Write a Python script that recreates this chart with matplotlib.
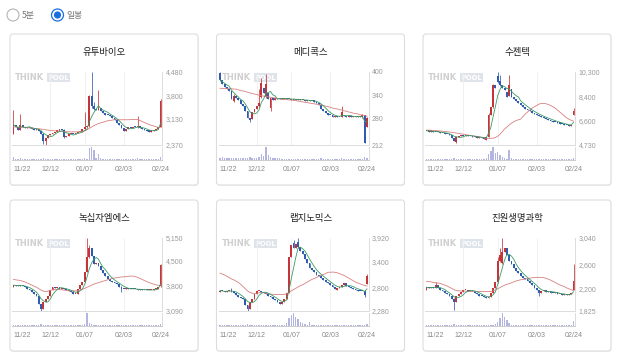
import matplotlib.pyplot as plt
from matplotlib.patches import FancyBboxPatch, Circle
import numpy as np
import pandas as pd

plt.rcParams['font.family'] = ['Noto Sans CJK KR', 'DejaVu Sans']

names = ["유투바이오", "메디콕스", "수젠텍", "녹십자엠에스", "랩지노믹스", "진원생명과학"]
price_ticks = [
    [2370, 3130, 3800, 4480],
    [212, 280, 340, 400],
    [4730, 6600, 8400, 10300],
    [3090, 3800, 4500, 5150],
    [2280, 2800, 3400, 3920],
    [1825, 2200, 2600, 3040],
]
date_pos = [0, 16, 31, 48, 64]
date_labels = ["11/22", "12/12", "01/07", "02/03", "02/24"]

open_1 = [2700, 2950, 2880, 2800, 2950, 2900, 2870, 2900, 2850, 2830,
          2800, 2820, 2780, 2700, 2480, 2560, 2650, 2700, 2730, 2760,
          2780, 2820, 2800, 2600, 2620, 2680, 2700, 2690, 2720, 2740,
          2760, 2820, 2900, 2920, 3800, 3500, 3420, 3380, 3450, 3350,
          3300, 3250, 3230, 3200, 3150, 3080, 3000, 2950, 2850, 2780,
          2820, 2880, 2860, 2900, 2880, 2920, 2850, 2830, 2800, 2770,
          2760, 2780, 2800, 2830, 2900]
close_1 = [2950, 2880, 2800, 2950, 2900, 2870, 2900, 2850, 2830, 2800,
           2820, 2780, 2700, 2480, 2560, 2650, 2700, 2730, 2760, 2780,
           2820, 2800, 2600, 2620, 2680, 2700, 2690, 2720, 2740, 2760,
           2820, 2900, 2920, 3800, 3500, 3420, 3380, 3450, 3350, 3300,
           3250, 3230, 3200, 3150, 3080, 3000, 2950, 2850, 2780, 2820,
           2880, 2860, 2900, 2880, 2920, 2850, 2830, 2800, 2770, 2760,
           2780, 2800, 2830, 2900, 3650]
wick_1 = {0: (3380, 2680), 3: (3280, 2790), 13: (2720, 2400), 14: (2580, 2380),
          22: (2820, 2580), 31: (3330, 2810), 33: (3820, 2900), 34: (4480, 3450),
          35: (3600, 3380), 37: (3950, 3370), 54: (3200, 2870), 64: (3700, 2890)}
vol_1 = [3, 1, 1, 2, 1, 1, 1, 1, 1, 1,
         1, 1, 1, 2, 1, 1, 1, 1, 1, 1,
         1, 1, 1, 1, 1, 1, 1, 1, 1, 1,
         1, 2, 1, 12, 13, 10, 2, 6, 2, 1,
         1, 1, 1, 1, 1, 1, 1, 1, 1, 1,
         1, 1, 1, 1, 2, 1, 1, 1, 1, 1,
         1, 1, 1, 1, 3]
ma_1 = [2890, 2890, 2885, 2880, 2880, 2875, 2870, 2865, 2860, 2850,
        2845, 2840, 2830, 2820, 2810, 2800, 2790, 2785, 2780, 2775,
        2770, 2765, 2760, 2755, 2750, 2750, 2750, 2750, 2752, 2755,
        2760, 2780, 2810, 2850, 2890, 2930, 2960, 2990, 3010, 3030,
        3050, 3070, 3080, 3090, 3100, 3100, 3100, 3100, 3100, 3100,
        3100, 3105, 3105, 3110, 3110, 3080, 3050, 3020, 2990, 2960,
        2940, 2920, 2900, 2880, 2870]

open_2 = [398, 380, 370, 362, 355, 350, 326, 338, 332, 328,
          318, 312, 300, 282, 280, 298, 305, 312, 336, 360,
          336, 345, 308, 332, 328, 332, 330, 334, 330, 332,
          330, 331, 329, 330, 328, 330, 327, 329, 326, 327,
          325, 326, 324, 320, 314, 306, 300, 295, 290, 288,
          285, 287, 284, 285, 289, 286, 284, 286, 285, 287,
          285, 286, 284, 289, 259]
close_2 = [380, 370, 362, 355, 350, 330, 338, 332, 328, 318,
           312, 300, 282, 276, 298, 305, 312, 320, 372, 345,
           370, 330, 332, 328, 332, 330, 334, 330, 332, 330,
           331, 329, 330, 328, 330, 327, 329, 326, 327, 325,
           326, 324, 320, 314, 306, 300, 295, 290, 288, 285,
           287, 284, 285, 298, 286, 284, 286, 285, 287, 285,
           286, 284, 289, 218, 282]
wick_2 = {0: (400, 378), 6: (343, 322), 13: (282, 272), 17: (355, 310),
          18: (385, 334), 20: (396, 334), 22: (334, 300), 53: (312, 283),
          62: (293, 282), 63: (290, 216), 64: (285, 258)}
vol_2 = [2, 3, 2, 2, 2, 2, 2, 2, 2, 2,
         2, 2, 2, 3, 2, 2, 2, 3, 6, 4,
         13, 5, 3, 2, 2, 2, 2, 1, 1, 1,
         1, 1, 1, 1, 1, 1, 1, 1, 1, 1,
         1, 1, 1, 1, 2, 1, 1, 1, 1, 1,
         1, 1, 1, 2, 1, 1, 1, 1, 1, 1,
         1, 1, 1, 3, 2]
ma_2 = [358, 358, 357, 357, 357, 357, 356, 356, 354, 352,
        351, 350, 348, 346, 345, 343, 342, 340, 339, 338,
        337, 336, 335, 334, 333, 332, 331, 330, 329, 329,
        328, 328, 327, 326, 325, 324, 323, 322, 321, 320,
        319, 318, 317, 317, 315, 314, 312, 311, 309, 307,
        306, 305, 303, 302, 300, 299, 297, 296, 294, 293,
        292, 290, 289, 288, 286]

open_3 = [5780, 5820, 5760, 5790, 5740, 5700, 5720, 5660, 5640, 5600,
          5560, 5480, 5300, 4950, 5350, 5420, 5480, 5450, 5480, 5400,
          5420, 5360, 5380, 5300, 5320, 5250, 5120, 5360, 7000, 7600,
          9300, 10000, 9600, 9300, 9100, 8800, 8500, 9000, 8400, 8250,
          8100, 7950, 7800, 7650, 7500, 7400, 7300, 7180, 7080, 7000,
          6920, 6860, 6780, 6720, 6650, 6580, 6520, 6470, 6420, 6370,
          6320, 6280, 6230, 6200, 7050]
close_3 = [5820, 5760, 5790, 5740, 5700, 5720, 5660, 5640, 5600, 5560,
           5480, 5300, 5050, 5350, 5420, 5480, 5450, 5480, 5400, 5420,
           5360, 5380, 5300, 5320, 5250, 5180, 5360, 7000, 7600, 9300,
           9100, 9500, 9300, 9100, 8900, 8400, 9300, 8400, 8250, 8100,
           7950, 7800, 7650, 7500, 7400, 7300, 7180, 7080, 7000, 6920,
           6860, 6780, 6720, 6650, 6580, 6520, 6470, 6420, 6370, 6320,
           6280, 6230, 6200, 6250, 7350]
wick_3 = {11: (5500, 5250), 13: (5380, 4880), 27: (7150, 5330), 29: (9350, 7550),
          31: (10300, 9450), 32: (10100, 9250), 36: (10050, 8450), 64: (7550, 7000)}
vol_3 = [1, 1, 1, 1, 1, 1, 1, 1, 1, 1,
         1, 1, 2, 1, 1, 1, 1, 1, 1, 1,
         1, 1, 1, 1, 1, 1, 2, 6, 9, 13,
         7, 8, 5, 3, 2, 1, 10, 2, 1, 1,
         1, 1, 1, 1, 1, 1, 1, 1, 1, 1,
         1, 1, 1, 1, 1, 1, 1, 1, 1, 1,
         1, 1, 1, 1, 2]
ma_3 = [5870, 5860, 5850, 5840, 5830, 5810, 5800, 5780, 5760, 5740,
        5720, 5700, 5670, 5640, 5610, 5580, 5550, 5520, 5490, 5460,
        5430, 5400, 5370, 5340, 5310, 5280, 5250, 5240, 5240, 5250,
        5300, 5400, 5550, 5750, 5950, 6100, 6250, 6400, 6500, 6600,
        6650, 6700, 6900, 7100, 7250, 7400, 7550, 7650, 7750, 7850,
        7900, 7900, 7880, 7820, 7750, 7650, 7550, 7400, 7250, 7100,
        6950, 6800, 6700, 6620, 6550]

open_4 = [3780, 3820, 3800, 3810, 3790, 3800, 3780, 3700, 3680, 3620,
          3580, 3520, 3300, 3160, 3330, 3420, 3520, 3680, 3780, 3740,
          3760, 3720, 3740, 3700, 3680, 3650, 3620, 3560, 3580, 3700,
          3830, 3900, 4200, 4600, 4880, 4650, 4420, 4450, 4350, 4250,
          4150, 4080, 4000, 3950, 3920, 3880, 3850, 3780, 3720, 3700,
          3740, 3720, 3700, 3720, 3700, 3690, 3700, 3680, 3690, 3670,
          3680, 3690, 3700, 3720, 3800]
close_4 = [3820, 3800, 3810, 3790, 3800, 3780, 3700, 3680, 3620, 3580,
           3520, 3300, 3160, 3330, 3420, 3520, 3680, 3780, 3740, 3760,
           3720, 3740, 3700, 3680, 3650, 3620, 3560, 3580, 3700, 3830,
           3900, 4200, 4600, 4880, 4650, 4420, 4450, 4350, 4250, 4150,
           4080, 4000, 3950, 3920, 3880, 3850, 3780, 3720, 3700, 3740,
           3720, 3700, 3720, 3700, 3690, 3700, 3680, 3690, 3670, 3680,
           3690, 3700, 3720, 3780, 4380]
wick_4 = {12: (3300, 3095), 32: (5150, 4180), 33: (4950, 4580), 47: (3790, 3640),
          64: (4420, 3780)}
vol_4 = [1, 1, 1, 1, 1, 1, 1, 1, 1, 1,
         1, 1, 2, 1, 1, 1, 1, 1, 1, 1,
         1, 1, 1, 1, 1, 1, 1, 1, 1, 1,
         1, 2, 13, 3, 2, 1, 1, 1, 1, 1,
         1, 1, 1, 1, 1, 1, 1, 1, 1, 1,
         1, 1, 1, 1, 1, 1, 1, 1, 1, 1,
         1, 1, 1, 1, 2]
ma_4 = [3980, 3970, 3960, 3950, 3930, 3910, 3880, 3850, 3820, 3790,
        3760, 3720, 3680, 3650, 3640, 3650, 3670, 3690, 3700, 3700,
        3690, 3690, 3680, 3670, 3660, 3660, 3660, 3660, 3660, 3680,
        3700, 3730, 3760, 3790, 3820, 3850, 3870, 3890, 3910, 3930,
        3950, 3970, 3990, 4010, 4020, 4030, 4040, 4050, 4055, 4060,
        4070, 4075, 4075, 4060, 4040, 4010, 3980, 3950, 3920, 3890,
        3870, 3850, 3830, 3815, 3800]

open_5 = [2700, 2740, 2720, 2700, 2740, 2760, 2720, 2680, 2640, 2600,
          2580, 2540, 2420, 2330, 2480, 2560, 2660, 2720, 2740, 2700,
          2680, 2660, 2620, 2600, 2560, 2520, 2480, 2440, 2480, 2560,
          2680, 3500, 3800, 3700, 3840, 3720, 3620, 3560, 3450, 3350,
          3250, 3200, 3150, 3100, 3060, 3020, 2980, 2940, 2900, 2870,
          2820, 2760, 2800, 2830, 2860, 2900, 2840, 2820, 2800, 2780,
          2760, 2740, 2730, 2720, 2880]
close_5 = [2740, 2720, 2700, 2740, 2760, 2720, 2680, 2640, 2600, 2580,
           2540, 2420, 2330, 2480, 2560, 2660, 2720, 2740, 2700, 2680,
           2660, 2620, 2600, 2560, 2520, 2480, 2440, 2480, 2560, 2680,
           3500, 3760, 3700, 3780, 3720, 3620, 3560, 3450, 3350, 3250,
           3200, 3150, 3100, 3060, 3020, 2980, 2940, 2900, 2870, 2820,
           2780, 2800, 2830, 2860, 2900, 2840, 2820, 2800, 2780, 2760,
           2740, 2730, 2720, 2640, 3060]
wick_5 = {5: (2800, 2710), 12: (2420, 2285), 32: (3880, 3690), 34: (3920, 3700),
          63: (2730, 2600), 64: (3120, 2880)}
vol_5 = [1, 1, 1, 1, 1, 1, 1, 1, 1, 1,
         1, 1, 2, 1, 1, 1, 1, 1, 1, 1,
         1, 1, 1, 1, 1, 1, 1, 1, 1, 3,
         8, 11, 13, 9, 7, 4, 3, 2, 1, 4,
         1, 1, 1, 1, 1, 1, 1, 1, 1, 1,
         1, 1, 1, 1, 1, 1, 1, 1, 1, 1,
         1, 1, 1, 1, 2]
ma_5 = [3130, 3110, 3090, 3060, 3030, 3000, 2980, 2950, 2920, 2880,
        2830, 2780, 2730, 2700, 2680, 2675, 2680, 2690, 2695, 2690,
        2680, 2670, 2660, 2655, 2650, 2650, 2650, 2650, 2655, 2670,
        2700, 2730, 2760, 2790, 2820, 2850, 2870, 2900, 2930, 2960,
        2990, 3010, 3030, 3060, 3080, 3100, 3120, 3150, 3150, 3155,
        3150, 3140, 3120, 3100, 3080, 3050, 3020, 2990, 2960, 2930,
        2910, 2890, 2870, 2850, 2840]

open_6 = [2180, 2220, 2200, 2230, 2210, 2250, 2200, 2180, 2150, 2130,
          2100, 2070, 2030, 1980, 2070, 2110, 2140, 2170, 2180, 2160,
          2170, 2150, 2130, 2110, 2080, 2070, 2050, 2040, 2060, 2120,
          2200, 2300, 2650, 2620, 2800, 2880, 2750, 2660, 2600, 2540,
          2490, 2450, 2410, 2380, 2350, 2320, 2290, 2250, 2210, 2180,
          2120, 2150, 2170, 2140, 2160, 2130, 2120, 2140, 2100, 2110,
          2090, 2100, 2090, 2100, 2180]
close_6 = [2220, 2200, 2230, 2210, 2250, 2200, 2180, 2150, 2130, 2100,
           2070, 2030, 1980, 2070, 2110, 2140, 2170, 2180, 2160, 2170,
           2150, 2130, 2110, 2080, 2070, 2050, 2040, 2060, 2120, 2200,
           2300, 2650, 2750, 2800, 2880, 2750, 2660, 2600, 2540, 2490,
           2450, 2410, 2380, 2350, 2320, 2290, 2250, 2210, 2180, 2120,
           2150, 2170, 2140, 2160, 2130, 2120, 2140, 2100, 2110, 2090,
           2100, 2090, 2100, 2110, 2330]
wick_6 = {4: (2300, 2200), 12: (2040, 1845), 31: (2720, 2290), 32: (2870, 2640),
          33: (3040, 2600), 49: (2180, 2070), 64: (2600, 2170)}
vol_6 = [1, 1, 1, 1, 1, 1, 1, 1, 1, 1,
         1, 1, 2, 1, 1, 1, 1, 1, 1, 1,
         1, 1, 1, 1, 1, 1, 1, 1, 1, 1,
         2, 4, 8, 13, 9, 6, 3, 1, 1, 1,
         1, 1, 1, 1, 1, 1, 1, 1, 1, 1,
         1, 1, 1, 1, 1, 1, 1, 1, 1, 1,
         1, 1, 1, 1, 5]
ma_6 = [2320, 2315, 2310, 2300, 2295, 2290, 2285, 2270, 2255, 2240,
        2220, 2200, 2180, 2165, 2160, 2158, 2156, 2155, 2154, 2152,
        2150, 2150, 2150, 2150, 2150, 2150, 2150, 2148, 2150, 2160,
        2175, 2195, 2215, 2235, 2255, 2270, 2280, 2295, 2310, 2325,
        2335, 2345, 2350, 2356, 2365, 2372, 2378, 2383, 2385, 2385,
        2383, 2380, 2370, 2355, 2340, 2320, 2300, 2280, 2260, 2245,
        2230, 2210, 2195, 2180, 2165]

opens = [open_1, open_2, open_3, open_4, open_5, open_6]
closes = [close_1, close_2, close_3, close_4, close_5, close_6]
wicks = [wick_1, wick_2, wick_3, wick_4, wick_5, wick_6]
vols = [vol_1, vol_2, vol_3, vol_4, vol_5, vol_6]
mas = [ma_1, ma_2, ma_3, ma_4, ma_5, ma_6]

UP = '#c43438'
DOWN = '#2f5bb0'

W, H = 618, 358
fig = plt.figure(figsize=(W / 100, H / 100), dpi=100)
bg = fig.add_axes([0, 0, 1, 1])
bg.set_xlim(0, W)
bg.set_ylim(H, 0)
bg.axis('off')


def px_axes(x0, y0, x1, y1):
    # axes from pixel box (top-left origin)
    return fig.add_axes([x0 / W, 1 - y1 / H, (x1 - x0) / W, (y1 - y0) / H])


# radio buttons
bg.add_patch(Circle((13, 15), 6, fc='white', ec='#b5b5b5', lw=0.8))
bg.text(22, 15.5, "5분", fontsize=6.3, color='#777777', va='center')
bg.add_patch(Circle((57.5, 15), 6, fc='white', ec='#1a6fe0', lw=0.9))
bg.add_patch(Circle((57.5, 15), 3.6, fc='#1a6fe0', ec='none'))
bg.text(66, 15.5, "일봉", fontsize=6.3, color='#777777', va='center')

card_x = [10, 216.5, 423]
card_y = [34, 200]
cw, ch = 188, 151

for k in range(6):
    cx = card_x[k % 3]
    cy = card_y[k // 3]

    bg.add_patch(FancyBboxPatch((cx + 0.5, cy + 1), cw, ch, boxstyle='round,pad=0,rounding_size=3',
                                fc='#f0f0f0', ec='none', zorder=1))
    bg.add_patch(FancyBboxPatch((cx, cy), cw, ch, boxstyle='round,pad=0,rounding_size=3',
                                fc='white', ec='#dddddd', lw=0.8, zorder=2))
    bg.text(cx + cw / 2, cy + 19, names[k], ha='center', va='center', fontsize=6.8,
            color='#1e1e1e', zorder=3)
    # watermark
    bg.text(cx + 5, cy + 43.5, "THINK", fontsize=6.0, fontweight='bold', color='#d0d0d0',
            va='center', family='DejaVu Sans', zorder=3)
    bg.text(cx + 38.5, cy + 43.5, "POOL", fontsize=4.9, fontweight='bold', color='white',
            va='center', family='DejaVu Sans', zorder=3,
            bbox=dict(boxstyle='square,pad=0.2', fc='#dfe3ea', ec='none'))

    o = np.array(opens[k], dtype=float)
    c = np.array(closes[k], dtype=float)
    assert len(o) == len(c) == len(vols[k]) == len(mas[k]) == 65
    x = np.arange(len(o))
    hi = np.maximum(o, c)
    lo = np.minimum(o, c)
    for i, (h, l) in wicks[k].items():
        hi[i], lo[i] = h, l
    ticks = price_ticks[k]
    rng = ticks[-1] - ticks[0]

    pa = px_axes(cx + 2, cy + 38, cx + 152, cy + 111)
    pa.patch.set_alpha(0)
    pa.set_xlim(-0.65, len(o) - 0.35)
    pa.set_ylim(ticks[0], ticks[-1])
    for p in date_pos[1:-1]:
        pa.axvline(p, color='#efefef', lw=0.6, zorder=0)
    cols = [UP if c[i] >= o[i] else DOWN for i in range(len(o))]
    body = np.where(np.abs(c - o) < rng * 0.014, rng * 0.014, np.abs(c - o))
    pa.vlines(x, lo, hi, colors=cols, lw=0.55, zorder=2)
    pa.bar(x, body, bottom=np.minimum(o, c), width=0.8, color=cols, lw=0, zorder=2)
    ma5 = pd.Series(c).rolling(5, min_periods=1).mean()
    pa.plot(x, mas[k], color='#d98080', lw=0.6, zorder=3)
    pa.plot(x, ma5, color='#3a9a66', lw=0.6, zorder=3)
    for s in ['top', 'left']:
        pa.spines[s].set_visible(False)
    pa.spines['bottom'].set_color('#dcdcdc')
    pa.spines['bottom'].set_linewidth(0.7)
    pa.spines['right'].set_color('#dcdcdc')
    pa.spines['right'].set_linewidth(0.7)
    pa.set_xticks([])
    pa.yaxis.tick_right()
    pa.set_yticks(ticks)
    pa.set_yticklabels([f'{t:,}' for t in ticks], family='Liberation Sans')
    pa.tick_params(axis='y', length=0, pad=2.5, labelsize=5.0, labelcolor='#9a9a9a')

    va_ = px_axes(cx + 2, cy + 113, cx + 152, cy + 126)
    va_.patch.set_alpha(0)
    va_.set_xlim(-0.65, len(o) - 0.35)
    va_.set_ylim(0, 13.5)
    va_.bar(x, vols[k], width=0.6, color='#b4b4e0', lw=0)
    for s in ['top', 'left']:
        va_.spines[s].set_visible(False)
    va_.spines['bottom'].set_color('#cccccc')
    va_.spines['bottom'].set_linewidth(0.7)
    va_.spines['right'].set_color('#dcdcdc')
    va_.spines['right'].set_linewidth(0.7)
    va_.set_yticks([])
    va_.set_xticks(date_pos)
    va_.set_xticklabels(date_labels, family='Liberation Sans')
    va_.tick_params(axis='x', length=0, pad=4.5, labelsize=5.1, labelcolor='#8a8a8a')
    va_.get_xticklabels()[0].set_ha('left')

fig.savefig('out.png', dpi=100)
